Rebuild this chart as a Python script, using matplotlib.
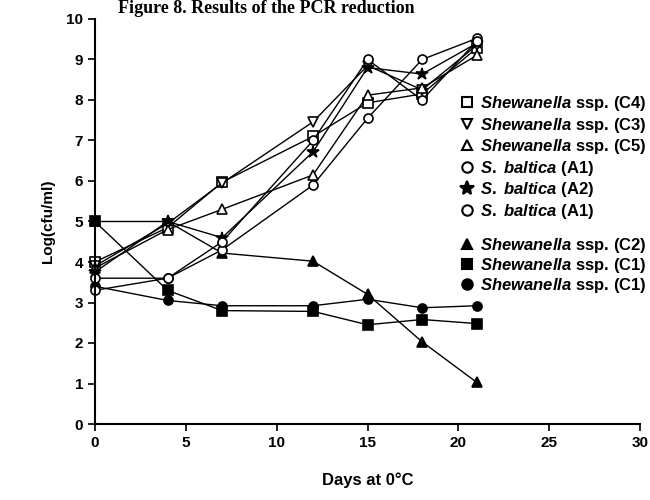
import matplotlib
matplotlib.use("Agg")
import matplotlib.pyplot as plt
from matplotlib.lines import Line2D

plt.rcParams['font.family'] = ['Liberation Sans', 'DejaVu Sans']
plt.rcParams['font.weight'] = 'bold'
plt.rcParams['mathtext.fontset'] = 'custom'
plt.rcParams['mathtext.it'] = 'Liberation Sans:italic:bold'
plt.rcParams['mathtext.rm'] = 'Liberation Sans:bold'

days = [0, 4, 7, 12, 15, 18, 21]

# open symbols
c4_square = [4.0, 4.85, 5.97, 7.1, 7.93, 8.15, 9.28]
c3_vtri = [3.9, 4.95, 5.95, 7.46, 8.85, 8.25, 9.35]
c5_tri = [3.85, 4.8, 5.3, 6.15, 8.12, 8.3, 9.1]
a1_circ = [3.3, 3.6, 4.3, 5.9, 7.55, 9.0, 9.52]
a2_star = [3.75, 5.0, 4.6, 6.72, 8.8, 8.64, 9.4]
a1_circ_b = [3.6, 3.6, 4.5, 7.0, 9.0, 8.0, 9.45]

# filled symbols
c2_tri = [5.0, 5.0, 4.22, 4.02, 3.2, 2.03, 1.03]
c1_square = [5.0, 3.3, 2.8, 2.78, 2.45, 2.58, 2.48]
c1_circ = [3.4, 3.05, 2.92, 2.92, 3.08, 2.87, 2.92]

labels_top = [r"$\mathit{Shewanella}$ ssp. (C4)", r"$\mathit{Shewanella}$ ssp. (C3)",
              r"$\mathit{Shewanella}$ ssp. (C5)", r"$\mathit{S.}$ $\mathit{baltica}$ (A1)",
              r"$\mathit{S.}$ $\mathit{baltica}$ (A2)", r"$\mathit{S.}$ $\mathit{baltica}$ (A1)"]
labels_bot = [r"$\mathit{Shewanella}$ ssp. (C2)", r"$\mathit{Shewanella}$ ssp. (C1)",
              r"$\mathit{Shewanella}$ ssp. (C1)"]

fig = plt.figure(figsize=(6.5, 5), dpi=100)
ax = fig.add_axes([0.146, 0.152, 0.839, 0.81])

top_series = [(c4_square, 's', 'white'), (c3_vtri, 'v', 'white'), (c5_tri, '^', 'white'),
              (a1_circ, 'o', 'white'), (a2_star, '*', 'black'), (a1_circ_b, 'o', 'white')]
bot_series = [(c2_tri, '^', 'black'), (c1_square, 's', 'black'), (c1_circ, 'o', 'black')]

for vals, m, fc in bot_series + top_series:
    ms = 9 if m == '*' else 6.5
    ax.plot(days, vals, color='black', lw=1, marker=m, ms=ms, mfc=fc, mec='black', mew=1.2,
            clip_on=False)

ax.set_xlim(0, 30)
ax.set_ylim(0, 10)
ax.set_xticks([0, 5, 10, 15, 20, 25, 30])
ax.set_yticks(range(0, 11))
ax.spines['top'].set_visible(False)
ax.spines['right'].set_visible(False)
ax.spines['left'].set_linewidth(1.5)
ax.spines['bottom'].set_linewidth(1.5)
ax.tick_params(direction='out', length=5, width=1.2, labelsize=11)
ax.set_xlabel("Days at 0°C", fontsize=12, fontweight='bold', labelpad=16)
ax.set_ylabel("Log(cfu/ml)", fontsize=11, fontweight='bold', labelpad=8)

h_top = [Line2D([], [], ls='none', marker=m, ms=(10 if m == '*' else 7.5), mfc=fc, mec='black', mew=1.5)
         for _, m, fc in top_series]
h_bot = [Line2D([], [], ls='none', marker=m, ms=7.5, mfc=fc, mec='black', mew=1.5)
         for _, m, fc in bot_series]

leg1 = ax.legend(h_top, labels_top, loc='upper left', bbox_to_anchor=(0.655, 0.835),
                 frameon=False, fontsize=12, handlelength=0.8, handletextpad=0.4,
                 labelspacing=0.15, borderpad=0)
ax.add_artist(leg1)
ax.legend(h_bot, labels_bot, loc='upper left', bbox_to_anchor=(0.655, 0.485),
          frameon=False, fontsize=12, handlelength=0.8, handletextpad=0.4,
          labelspacing=0.05, borderpad=0)

fig.text(0.41, 0.974, "Figure 8. Results of the PCR reduction", family='Liberation Serif',
         fontsize=13, fontweight='bold', ha='center', va='baseline')

fig.savefig("out.png", dpi=100)
